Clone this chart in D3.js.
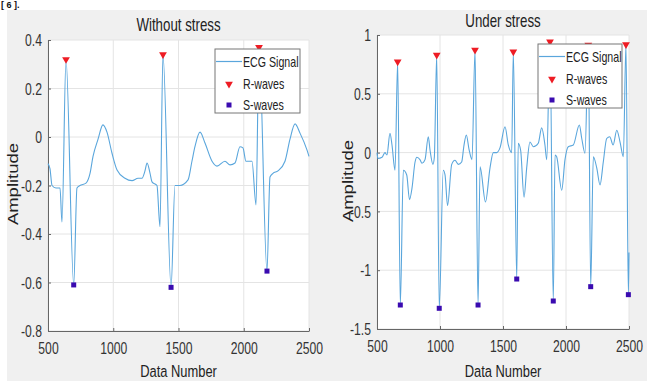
<!DOCTYPE html>
<html><head><meta charset="utf-8">
<script src="https://cdn.jsdelivr.net/npm/d3@7"></script>
<style>html,body{margin:0;padding:0;background:#fff;}svg{display:block;font-family:"Liberation Sans",Arial,sans-serif;}</style>
</head><body><svg id="c" width="647" height="381"></svg>
<script>
// ---- data ----
const leftX = [500,515,531,561,592,607,638,697,722,745,791,822,845,883,921,952,990,1029,1090,1144,1190,1220,1243,1259,1282,1297,1335,1358,1381,1443,1473,1511,1573,1603,1626,1665,1703,1757,1795,1856,1895,1933,1971,1994,2017,2063,2094,2117,2178,2201,2224,2262,2316,2354,2393,2431,2485,2500];
const leftY = [-0.11,-0.13,-0.20,-0.21,-0.21,-0.35,0.32,-0.61,-0.21,-0.20,-0.19,-0.15,-0.08,-0.01,0.05,0.02,-0.066,-0.136,-0.17,-0.18,-0.17,-0.17,-0.14,-0.107,-0.15,-0.185,-0.20,-0.37,0.34,-0.62,-0.20,-0.20,-0.177,-0.10,-0.04,0.02,-0.025,-0.10,-0.12,-0.10,-0.115,-0.107,-0.04,-0.045,-0.10,-0.10,-0.28,0.37,-0.553,-0.165,-0.15,-0.14,-0.10,-0.01,0.054,0.016,-0.054,-0.08];
const leftRx = [638,1381,2117];
const leftRy = [0.32,0.34,0.37];
const leftSx = [697,1443,2178];
const leftSy = [-0.61,-0.62,-0.553];

const rightX = [500,508,540,563,579,603,619,643,664,685,709,736,758,778,802,817,841,857,881,907,921,944,955,974,994,1026,1040,1060,1093,1119,1145,1172,1190,1209,1230,1254,1278,1302,1318,1361,1397,1423,1450,1476,1516,1542,1569,1582,1609,1621,1640,1667,1688,1714,1741,1780,1807,1833,1847,1873,1899,1913,1926,1966,1992,2018,2058,2106,2125,2151,2177,2196,2217,2244,2270,2296,2323,2347,2374,2403,2429,2455,2476,2495,2500];
const rightY = [0.0,-0.05,-0.04,0.0,-0.02,0.164,0.065,-0.15,0.773,-1.296,-0.15,-0.19,-0.40,-0.30,-0.08,-0.04,-0.06,-0.09,-0.06,0.135,0.02,-0.10,-0.04,0.83,-1.324,-0.15,-0.19,-0.45,-0.10,-0.065,-0.10,-0.08,0.06,0.15,0.03,-0.06,0.872,-1.296,-0.12,-0.42,-0.13,0.0,0.0,0.04,0.22,0.065,0.0,0.858,-1.075,0.08,0.02,-0.38,-0.13,0.09,0.05,0.08,0.21,0.065,-0.06,0.943,-1.262,-0.02,-0.035,-0.32,-0.06,0.05,0.065,0.235,0.12,-0.005,0.915,-1.14,-0.035,-0.13,-0.275,-0.08,0.12,0.135,0.065,0.19,0.09,-0.035,0.92,-1.208,-0.85];
const rightRx = [664,974,1278,1582,1873,2177,2476];
const rightRy = [0.773,0.83,0.872,0.858,0.943,0.915,0.92];
const rightSx = [685,994,1302,1609,1899,2196,2495];
const rightSy = [-1.296,-1.324,-1.296,-1.075,-1.262,-1.14,-1.208];

const xTicks = [500,1000,1500,2000,2500];
const leftYTicks = [-0.8,-0.6,-0.4,-0.2,0,0.2,0.4];
const rightYTicks = [-1.5,-1,-0.5,0,0.5,1];
const titles = ["Without stress","Under stress"];
const legendLabels = ["ECG Signal","R-waves","S-waves"];

// ---- drawing ----
const SX = 0.76;
const svg = d3.select("#c");
svg.append("rect").attr("x",7).attr("y",10).attr("width",640).attr("height",371).attr("fill","#f0f0f0");
svg.append("text").attr("x",1).attr("y",8).attr("font-size",9).attr("font-weight","bold").attr("fill","#111").text("[ 6 ].");

function text(g,x,y,str,size,anchor,rot){
  return g.append("text").attr("transform",`translate(${x},${y}) scale(${SX},1)`+(rot?` rotate(${rot})`:""))
    .attr("text-anchor",anchor||"middle").attr("font-size",size).attr("fill","#222").text(str);
}

function panel(cfg){
  const x = d3.scaleLinear().domain([500,2500]).range([cfg.x0,cfg.x1]);
  const y = d3.scaleLinear().domain(cfg.yDomain).range([cfg.y1,cfg.y0]);
  const g = svg.append("g");
  g.append("rect").attr("x",cfg.x0).attr("y",cfg.y0).attr("width",cfg.x1-cfg.x0).attr("height",cfg.y1-cfg.y0).attr("fill","#fff");
  // grid
  g.selectAll(".gx").data(xTicks).enter().append("line")
    .attr("x1",d=>x(d)).attr("x2",d=>x(d)).attr("y1",cfg.y0).attr("y2",cfg.y1).attr("stroke","#e4e4e4").attr("stroke-width",1);
  g.selectAll(".gy").data(cfg.yTicks).enter().append("line")
    .attr("x1",cfg.x0).attr("x2",cfg.x1).attr("y1",d=>y(d)).attr("y2",d=>y(d)).attr("stroke","#e4e4e4").attr("stroke-width",1);
  // axes
  const ax = g.append("g").attr("transform",`translate(0,${cfg.y1})`)
    .call(d3.axisBottom(x).tickValues(xTicks).tickSizeInner(-3).tickSizeOuter(0).tickFormat(d3.format("d")));
  ax.selectAll("text").attr("y",0).attr("dy",null).attr("font-size",16).attr("fill","#333")
    .attr("font-family","Liberation Sans, Arial, sans-serif")
    .attr("transform",`translate(0,23) scale(${SX},1)`);
  const ay = g.append("g").attr("transform",`translate(${cfg.x0},0)`)
    .call(d3.axisLeft(y).tickValues(cfg.yTicks).tickSizeInner(-3).tickSizeOuter(0).tickFormat(d=>String(+d.toFixed(2))));
  ay.selectAll("text").attr("x",0).attr("dy","0.36em").attr("font-size",16).attr("fill","#333")
    .attr("font-family","Liberation Sans, Arial, sans-serif")
    .attr("transform",`translate(-6,0) scale(${SX},1)`);
  [ax,ay].forEach(a=>{a.select(".domain").attr("stroke","#666");a.selectAll(".tick line").attr("stroke","#666");});
  // signal
  const pts = cfg.sx.map((v,i)=>[v,cfg.sy[i]]);
  g.append("path").datum(pts).attr("fill","none").attr("stroke","#5aa6dc").attr("stroke-width",1.1)
    .attr("d",d3.line().x(d=>x(d[0])).y(d=>y(d[1])).curve(d3.curveMonotoneX));
  // R markers
  const tri = d3.symbol().type(d3.symbolTriangle).size(26);
  g.selectAll(".r").data(cfg.rx.map((v,i)=>[v,cfg.ry[i]])).enter().append("path")
    .attr("d",tri).attr("transform",d=>`translate(${x(d[0])},${y(d[1])}) rotate(180)`).attr("fill","#ee1c24");
  g.selectAll(".s").data(cfg.ssx.map((v,i)=>[v,cfg.ssy[i]])).enter().append("rect")
    .attr("x",d=>x(d[0])-2.5).attr("y",d=>y(d[1])-2.5).attr("width",5).attr("height",5).attr("fill","#3a0bb0");
  // titles
  text(g,(cfg.x0+cfg.x1)/2,cfg.titleY,cfg.title,17.5,"middle");
  text(g,(cfg.x0+cfg.x1)/2,377,"Data Number",17,"middle");
  text(g,cfg.ylabX,cfg.ylabY,"Amplitude",18.5,"middle",-90);
  // legend
  const L = cfg.leg;
  g.append("rect").attr("x",L.x).attr("y",L.y).attr("width",L.w).attr("height",L.h).attr("fill","#fff").attr("stroke","#777").attr("stroke-width",1);
  const rows = [L.y+12.5, L.y+35, L.y+56];
  g.append("line").attr("x1",L.x+1).attr("x2",L.x+27).attr("y1",rows[0]).attr("y2",rows[0]).attr("stroke","#5aa6dc").attr("stroke-width",1.2);
  g.append("path").attr("d",tri).attr("transform",`translate(${L.x+14},${rows[1]}) rotate(180)`).attr("fill","#ee1c24");
  g.append("rect").attr("x",L.x+14-2.5).attr("y",rows[2]-2.5).attr("width",5).attr("height",5).attr("fill","#3a0bb0");
  legendLabels.forEach((s,i)=>{ text(g,L.x+28,rows[i]+5,s,14,"start"); });
}

panel({x0:48,x1:309,y0:40,y1:331,yDomain:[-0.8,0.4],yTicks:leftYTicks,
  sx:leftX,sy:leftY,rx:leftRx,ry:leftRy,ssx:leftSx,ssy:leftSy,title:titles[0],titleY:31,
  ylabX:17.5,ylabY:184,leg:{x:215,y:49,w:85,h:64}});
panel({x0:377,x1:629,y0:35,y1:329,yDomain:[-1.5,1],yTicks:rightYTicks,
  sx:rightX,sy:rightY,rx:rightRx,ry:rightRy,ssx:rightSx,ssy:rightSy,title:titles[1],titleY:27,
  ylabX:352.5,ylabY:181,leg:{x:538,y:44,w:84,h:64}});
</script></body></html>
